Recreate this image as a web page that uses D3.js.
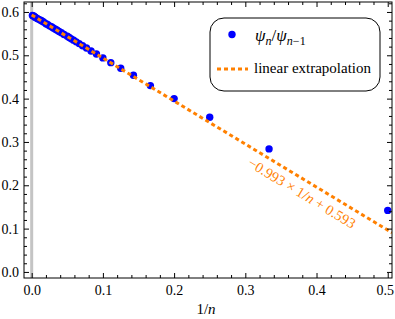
<!DOCTYPE html>
<html>
<head>
<meta charset="utf-8">
<script src="https://cdn.jsdelivr.net/npm/d3@7"></script>
<style>body{margin:0;background:#fff;}</style>
</head>
<body>
<svg id="c" width="395" height="319"></svg>
<script>
// n values and ratio psi_n / psi_{n-1}
const nValues = [2,3,4,5,6,7,8,9,10,11,12,13,14,15,16,17,18,19,20,22,24,26,28,30,33,36,40,45,50,60,70,80,100,130,170,220,300,500,1000];
const ratioValues = [0.142,0.284,0.357,0.400,0.430,0.454,0.470,0.483,0.494,0.503,0.510,0.517,0.522,0.527,0.531,0.535,0.538,0.541,0.544,0.548,0.552,0.555,0.558,0.560,0.563,0.566,0.568,0.571,0.573,0.577,0.579,0.581,0.583,0.585,0.587,0.588,0.590,0.591,0.592];
const fitSlope = -0.993;
const fitIntercept = 0.593;
const xTicks = [0.0,0.1,0.2,0.3,0.4,0.5];
const yTicks = [0.0,0.1,0.2,0.3,0.4,0.5,0.6];

const FONT = "Liberation Serif";
const svg = d3.select("#c");
const L=24,R=392,T=2,B=278;
const x = d3.scaleLinear().domain([-0.0108,0.506]).range([L,R]);
const y = d3.scaleLinear().domain([-0.014,0.623]).range([B,T]);

const plot = svg.append("g");
svg.append("defs").append("clipPath").attr("id","clip").append("rect")
  .attr("x",L).attr("y",T).attr("width",R-L).attr("height",B-T);
const clip = plot.append("g").attr("clip-path","url(#clip)");

// gray line at x = 0
clip.append("line").attr("x1",x(0)).attr("x2",x(0)).attr("y1",T).attr("y2",B)
  .attr("stroke","#c4c4c4").attr("stroke-width",3);

// points
const pts = nValues.map((n,i)=>({x:1/n,y:ratioValues[i]}));
clip.selectAll("circle.p").data(pts).enter().append("circle")
  .attr("cx",d=>x(d.x)).attr("cy",d=>y(d.y)).attr("r",3.7).attr("fill","#0000ff");

// fit line
const orange = "#ff8000";
clip.append("line")
  .attr("x1",x(0)).attr("y1",y(fitIntercept))
  .attr("x2",x(0.506)).attr("y2",y(fitIntercept+fitSlope*0.506))
  .attr("stroke",orange).attr("stroke-width",3).attr("stroke-dasharray","4,3");

// minor ticks
const xMinor = d3.range(0,0.5001,0.02).filter(v=>Math.abs(v*10-Math.round(v*10))>1e-6);
const yMinor = d3.range(0,0.6201,0.02).filter(v=>Math.abs(v*10-Math.round(v*10))>1e-6);

function axis(gen, ticks, size, labels, pad){
  return gen.tickValues(ticks).tickSize(size).tickPadding(pad)
    .tickFormat(labels? d3.format(".1f") : ()=>"");
}
// bottom
let g = svg.append("g").attr("transform",`translate(0,${B})`);
g.call(axis(d3.axisBottom(x),xTicks,-5,true,7));
g.selectAll(".tick text").filter(d=>d===0.5).attr("dx",-3);
g.append("g").call(axis(d3.axisBottom(x),xMinor,-3,false,0));
// top
g = svg.append("g").attr("transform",`translate(0,${T})`);
g.call(axis(d3.axisTop(x),xTicks,-5,false,0));
g.append("g").call(axis(d3.axisTop(x),xMinor,-3,false,0));
// left
g = svg.append("g").attr("transform",`translate(${L},0)`);
g.call(axis(d3.axisLeft(y),yTicks,-5,true,5));
g.append("g").call(axis(d3.axisLeft(y),yMinor,-3,false,0));
// right
g = svg.append("g").attr("transform",`translate(${R},0)`);
g.call(axis(d3.axisRight(y),yTicks,-5,false,0));
g.append("g").call(axis(d3.axisRight(y),yMinor,-3,false,0));

svg.selectAll(".domain").remove();
svg.selectAll(".tick line").attr("stroke","#000").attr("stroke-width",1);
svg.selectAll(".tick text").attr("font-size","14px").attr("fill","#000").attr("font-family",FONT);

// frame
svg.append("rect").attr("x",L).attr("y",T).attr("width",R-L).attr("height",B-T)
  .attr("fill","none").attr("stroke","#000").attr("stroke-width",1);

// x axis label
const xl = svg.append("text").attr("x",206).attr("y",314).attr("text-anchor","middle")
  .attr("font-family",FONT).attr("font-size","15px");
xl.append("tspan").text("1/");
xl.append("tspan").attr("font-style","italic").text("n");

// annotation along the fit line
const ax1 = 0.3, ax2 = 0.45;
const ang = Math.atan2(y(fitIntercept+fitSlope*ax2)-y(fitIntercept+fitSlope*ax1), x(ax2)-x(ax1))*180/Math.PI;
const ann = svg.append("text").attr("transform",`translate(302,193) rotate(${ang})`)
  .attr("text-anchor","middle").attr("dominant-baseline","central")
  .attr("font-family",FONT).attr("font-size","14.5px").attr("fill",orange);
ann.append("tspan").text("\u22120.993 \u00d7 1/");
ann.append("tspan").attr("font-style","italic").text("n");
ann.append("tspan").text(" + 0.593");

// legend
const lg = svg.append("g");
lg.append("rect").attr("x",210).attr("y",18).attr("width",170).attr("height",73).attr("rx",14)
  .attr("fill","#fff").attr("stroke","#000").attr("stroke-width",1);
lg.append("circle").attr("cx",232).attr("cy",34.5).attr("r",3.7).attr("fill","#0000ff");
const lt = lg.append("text").attr("x",255).attr("y",41).attr("font-family",FONT).attr("font-size","17px").attr("fill","#000");
lt.append("tspan").attr("font-style","italic").text("\u03c8");
lt.append("tspan").attr("font-style","italic").attr("font-size","12px").attr("dy",4).text("n");
lt.append("tspan").attr("dy",-4).text("/");
lt.append("tspan").attr("font-style","italic").text("\u03c8");
const sub = lt.append("tspan").attr("font-size","12px").attr("dy",4);
sub.append("tspan").attr("font-style","italic").text("n");
sub.append("tspan").text("\u22121");
lg.append("line").attr("x1",217).attr("x2",248).attr("y1",69).attr("y2",69)
  .attr("stroke",orange).attr("stroke-width",3).attr("stroke-dasharray","4,3");
lg.append("text").attr("x",254).attr("y",72.5).attr("font-family",FONT).attr("font-size","15px").attr("fill","#000")
  .text("linear extrapolation");
</script>
</body>
</html>
